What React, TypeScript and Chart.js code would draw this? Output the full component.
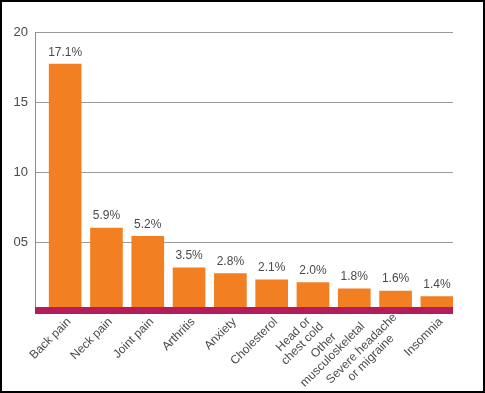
import React, { useEffect, useRef } from "react";
import { Chart, registerables } from "chart.js";

Chart.register(...registerables);

const categories: (string | string[])[] = [
  "Back pain",
  "Neck pain",
  "Joint pain",
  "Arthritis",
  "Anxiety",
  "Cholesterol",
  ["Head or", "chest cold"],
  ["Other", "musculoskeletal"],
  ["Severe headache", "or migraine"],
  "Insomnia",
];

// bar heights as drawn in the picture
const barValues = [17.7, 6.0, 5.4, 3.15, 2.75, 2.3, 2.1, 1.65, 1.5, 1.1];

// value labels as printed above the bars
const valueLabels = ["17.1%", "5.9%", "5.2%", "3.5%", "2.8%", "2.1%", "2.0%", "1.8%", "1.6%", "1.4%"];

const yTickValues = [0, 5, 10, 15, 20];
const yTickLabels = ["", "05", "10", "15", "20"];

const FONT = "'Liberation Sans', Arial, Helvetica, sans-serif";
const TEXT = "#4a4a4a";
const ORANGE = "#F27F22";
const MAGENTA = "#B41C5C";

const overlayPlugin = {
  id: "overlay",
  afterDatasetsDraw(chart: any) {
    const { ctx, chartArea, scales } = chart;
    const x = scales.x;
    const y = scales.y;
    const y0 = y.getPixelForValue(0);
    ctx.save();
    // magenta base band
    ctx.fillStyle = MAGENTA;
    ctx.fillRect(chartArea.left, y0 - 5, chartArea.right - chartArea.left, 7);

    // value labels
    ctx.fillStyle = TEXT;
    ctx.font = `12px ${FONT}`;
    ctx.textAlign = "center";
    ctx.textBaseline = "middle";
    barValues.forEach((v, i) => {
      const px = x.getPixelForValue(i);
      const py = y.getPixelForValue(v);
      ctx.fillText(valueLabels[i], px, py - 12);
    });

    // rotated category labels
    const lh = 13;
    categories.forEach((c, i) => {
      const lines = Array.isArray(c) ? c : [c];
      const cx = x.getPixelForValue(i);
      ctx.save();
      ctx.translate(cx + 4, chartArea.bottom + 8);
      ctx.rotate(-Math.PI / 4);
      ctx.font = `12px ${FONT}`;
      const W = Math.max(...lines.map((l) => ctx.measureText(l).width));
      ctx.textAlign = "center";
      ctx.textBaseline = "middle";
      lines.forEach((l, j) => {
        const ly = (j - (lines.length - 1) / 2) * lh;
        ctx.fillText(l, -W / 2, ly);
      });
      ctx.restore();
    });
    ctx.restore();
  },
};

export default function App() {
  const ref = useRef<HTMLCanvasElement>(null);

  useEffect(() => {
    document.body.style.margin = "0";
    const canvas = ref.current;
    if (!canvas) return;
    const chart = new Chart(canvas, {
      type: "bar",
      data: {
        datasets: [
          {
            data: barValues.map((v, i) => ({ x: i, y: v })),
            backgroundColor: ORANGE,
            borderWidth: 0,
            barThickness: 32,
          },
        ],
      },
      options: {
        animation: false,
        responsive: false,
        maintainAspectRatio: false,
        layout: { padding: { top: 30, right: 30, bottom: 79, left: 0 } },
        plugins: { legend: { display: false }, tooltip: { enabled: false } },
        scales: {
          x: {
            type: "linear",
            min: -0.73,
            max: 9.39,
            offset: false,
            display: false,
          },
          y: {
            min: 0,
            max: 20,
            afterFit(scale: any) {
              scale.width = 33;
            },
            afterBuildTicks(scale: any) {
              scale.ticks = yTickValues.map((v) => ({ value: v }));
            },
            ticks: {
              padding: 7,
              color: TEXT,
              font: { family: FONT, size: 13 },
              callback: (_v: any, idx: number) => yTickLabels[idx],
            },
            grid: {
              color: "#9a9a9a",
              lineWidth: 1,
              drawTicks: false,
            },
            border: { color: "#8a8a8a", width: 1 },
          },
        },
      },
      plugins: [overlayPlugin],
    });
    return () => chart.destroy();
  }, []);

  return (
    <div
      style={{
        width: 485,
        height: 393,
        boxSizing: "border-box",
        border: "2px solid #000",
        background: "#fff",
        position: "relative",
      }}
    >
      <canvas ref={ref} width={481} height={389} style={{ display: "block" }} />
    </div>
  );
}
